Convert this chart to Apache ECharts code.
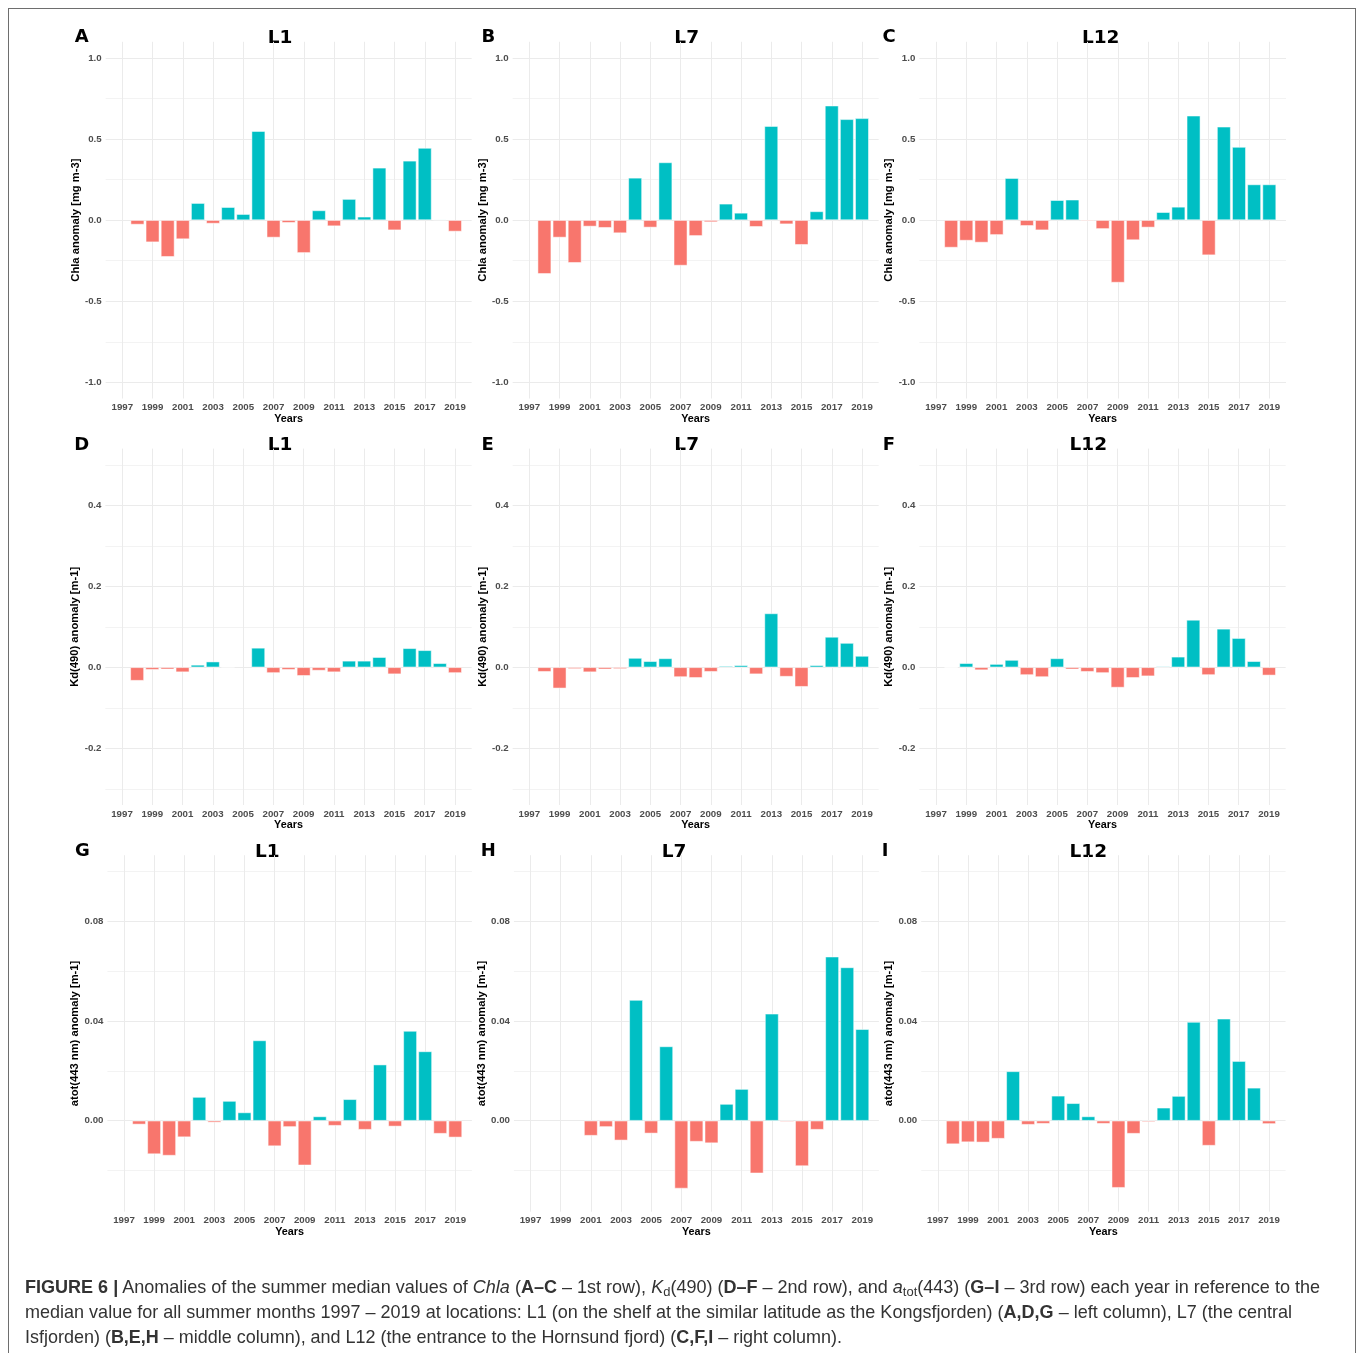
<!DOCTYPE html>
<html>
<head>
<meta charset="utf-8">
<script src="https://cdn.jsdelivr.net/npm/echarts@6/dist/echarts.min.js"></script>
<style>
html,body{margin:0;padding:0;background:#fff;}
#wrap{position:relative;width:1358px;height:1353px;overflow:hidden;background:#fff;}
#chart{position:absolute;left:0;top:0;width:1358px;height:1353px;}
#frame{position:absolute;left:8px;top:8px;width:1348px;height:1420px;border:1px solid #6e6e6e;box-sizing:border-box;pointer-events:none;}
#caption{position:absolute;left:25px;top:0;width:1320px;height:1353px;font-family:'Liberation Sans Narrow','Liberation Sans',Arial,sans-serif;font-size:18.5px;color:#333;pointer-events:none;}
.cl{position:absolute;left:0;white-space:nowrap;line-height:25px;transform-origin:0 50%;}
.cl sub{font-size:0.72em;vertical-align:-0.25em;line-height:0;}
</style>
</head>
<body>
<div id="wrap">
  <div id="chart"></div>
  <div id="frame"></div>
  <div id="caption">
    <div class="cl" id="cl1" style="top:1274px"><b>FIGURE 6 |</b> Anomalies of the summer median values of <i>Chla</i> (<b>A–C</b> – 1st row), <i>K</i><sub>d</sub>(490) (<b>D–F</b> – 2nd row), and <i>a</i><sub>tot</sub>(443) (<b>G–I</b> – 3rd row) each year in reference to the</div>
    <div class="cl" id="cl2" style="top:1299px">median value for all summer months 1997 – 2019 at locations: L1 (on the shelf at the similar latitude as the Kongsfjorden) (<b>A,D,G</b> – left column), L7 (the central</div>
    <div class="cl" id="cl3" style="top:1324px">Isfjorden) (<b>B,E,H</b> – middle column), and L12 (the entrance to the Hornsund fjord) (<b>C,F,I</b> – right column).</div>
  </div>
</div>
<script>
// ---------------- DATA ----------------
const years = [1998, 1999, 2000, 2001, 2002, 2003, 2004, 2005, 2006, 2007, 2008,
               2009, 2010, 2011, 2012, 2013, 2014, 2015, 2016, 2017, 2018, 2019];
const xTickYears = [1997, 1999, 2001, 2003, 2005, 2007, 2009, 2011, 2013, 2015, 2017, 2019];

const chlaL1  = [-0.027, -0.136, -0.226, -0.117, 0.105, -0.021, 0.080, 0.037, 0.549, -0.107, -0.016,
                 -0.202, 0.060, -0.037, 0.130, 0.021, 0.323, -0.062, 0.366, 0.445, 0.004, -0.070];
const chlaL7  = [-0.331, -0.107, -0.263, -0.039, -0.047, -0.080, 0.261, -0.045, 0.356, -0.280, -0.097,
                 -0.012, 0.101, 0.045, -0.041, 0.580, -0.025, -0.152, 0.054, 0.706, 0.622, 0.628];
const chlaL12 = [-0.169, -0.126, -0.138, -0.091, 0.259, -0.035, -0.062, 0.123, 0.126, -0.006, -0.054,
                 -0.385, -0.123, -0.045, 0.049, 0.082, 0.644, -0.216, 0.576, 0.451, 0.220, 0.220];

const kdL1  = [-0.033, -0.006, -0.005, -0.012, 0.006, 0.014, 0.001, null, 0.048, -0.014, -0.006,
               -0.021, -0.008, -0.012, 0.016, 0.016, 0.025, -0.017, 0.047, 0.042, 0.010, -0.014];
const kdL7  = [-0.011, -0.052, -0.004, -0.012, -0.005, -0.004, 0.023, 0.015, 0.022, -0.024, -0.026,
               -0.011, 0.003, 0.005, -0.017, 0.133, -0.023, -0.048, 0.005, 0.075, 0.060, 0.028];
const kdL12 = [-0.001, 0.010, -0.007, 0.008, 0.018, -0.019, -0.024, 0.022, -0.005, -0.011, -0.014,
               -0.050, -0.026, -0.022, 0.002, 0.026, 0.117, -0.019, 0.095, 0.072, 0.015, -0.020];

const atotL1  = [-0.0015, -0.0134, -0.0140, -0.0066, 0.0095, -0.0007, 0.0079, 0.0033, 0.0322, -0.0102, -0.0025,
                 -0.0179, 0.0017, -0.0020, 0.0086, -0.0036, 0.0225, -0.0023, 0.0360, 0.0278, -0.0052, -0.0067];
const atotL7  = [null, null, null, -0.0060, -0.0025, -0.0079, 0.0484, -0.0051, 0.0298, -0.0272, -0.0084,
                 -0.0090, 0.0067, 0.0127, -0.0211, 0.0429, -0.0004, -0.0182, -0.0036, 0.0658, 0.0615, 0.0367];
const atotL12 = [-0.0094, -0.0086, -0.0087, -0.0072, 0.0198, -0.0016, -0.0012, 0.0100, 0.0070, 0.0017, -0.0012,
                 -0.0269, -0.0052, -0.0005, 0.0052, 0.0099, 0.0396, -0.0100, 0.0409, 0.0239, 0.0132, -0.0013];

const chlaTicks = [-1.0, -0.5, 0.0, 0.5, 1.0];
const kdTicks   = [-0.2, 0.0, 0.2, 0.4];
const atotTicks = [0.00, 0.04, 0.08];

const locations = ['L1', 'L7', 'L12'];
const panelLetters = ['A', 'B', 'C', 'D', 'E', 'F', 'G', 'H', 'I'];
const rowAxisNames = ['Chla anomaly [mg m-3]', 'Kd(490) anomaly [m-1]', 'atot(443 nm) anomaly [m-1]'];
const xAxisName = 'Years';

const panelValues = [
  [chlaL1, chlaL7, chlaL12],
  [kdL1, kdL7, kdL12],
  [atotL1, atotL7, atotL12]
];
const rowTicks = [chlaTicks, kdTicks, atotTicks];

// ---------------- LAYOUT (pixels / styling only) ----------------
const X_MIN = 1995.9, X_MAX = 2020.1;
const x1997px = [[122.3, 529.3, 936.0], [122.0, 529.3, 936.0], [124.0, 530.5, 937.8]];
const x2019px = [[455.0, 862.0, 1269.3], [455.0, 862.0, 1269.0], [455.3, 862.3, 1269.0]];
const rowLayout = [
  { vA: 1.0,  pA: 58.0,  vB: -1.0, pB: 382.3,  min: -1.1,    max: 1.1,    interval: 0.5,  dec: 1 },
  { vA: 0.4,  pA: 505.3, vB: -0.2, pB: 748.3,  min: -0.34,   max: 0.54,   interval: 0.2,  dec: 1 },
  { vA: 0.08, pA: 921.3, vB: 0.0,  pB: 1120.7, min: -0.0365, max: 0.1065, interval: 0.04, dec: 2 }
];
const titlePos  = [[280, 38.5], [686.7, 38.5], [1100.7, 38.5],
                   [280, 445.5], [686.7, 445.5], [1088.3, 445.5],
                   [267.3, 852], [674, 852], [1088.3, 852]];
const letterPos = [[81.7, 37.5], [488.3, 37.5], [889, 37.5],
                   [81.7, 445.5], [487.7, 445.5], [889, 445.5],
                   [82.3, 851.5], [488.3, 851.5], [885, 851.5]];

const POS = '#00BFC4', NEG = '#F8766D';
const axisFont = 'Liberation Sans';

const grids = [], xAxes = [], yAxes = [], series = [], graphics = [];

for (let r = 0; r < 3; r++) {
  const L = rowLayout[r];
  const pxPerUnit = (L.pB - L.pA) / (L.vA - L.vB);
  const py = v => L.pA + (L.vA - v) * pxPerUnit;
  for (let c = 0; c < 3; c++) {
    const i = r * 3 + c;
    const pxPerYear = (x2019px[r][c] - x1997px[r][c]) / 22;
    const px = y => x1997px[r][c] + (y - 1997) * pxPerYear;
    const left = px(X_MIN), right = px(X_MAX);
    const top = py(L.max), bottom = py(L.min);
    grids.push({ left: left, top: top, width: right - left, height: bottom - top, containLabel: false });

    xAxes.push({
      type: 'value', gridIndex: i, min: X_MIN, max: X_MAX,
      axisLine: { show: false },
      axisTick: { show: false, customValues: xTickYears },
      axisLabel: {
        customValues: xTickYears, margin: 4, fontSize: 9.7, fontWeight: 'bold',
        color: '#4d4d4d', fontFamily: axisFont, formatter: v => String(Math.round(v))
      },
      splitLine: { show: true, lineStyle: { color: '#ebebeb', width: 1 } },
      name: xAxisName, nameLocation: 'middle', nameGap: 13,
      nameTextStyle: { fontSize: 10.8, fontWeight: 'bold', color: '#000', fontFamily: axisFont }
    });

    const ticks = rowTicks[r];
    yAxes.push({
      type: 'value', gridIndex: i, min: L.min, max: L.max,
      minInterval: L.interval, maxInterval: L.interval,
      axisLine: { show: false },
      axisTick: { show: false, customValues: ticks },
      axisLabel: {
        customValues: ticks, margin: 4, fontSize: 9.7, fontWeight: 'bold',
        color: '#4d4d4d', fontFamily: axisFont, formatter: v => Number(v).toFixed(L.dec)
      },
      splitLine: { show: true, lineStyle: { color: '#ebebeb', width: 1 } },
      minorTick: { show: false, splitNumber: 2 },
      minorSplitLine: { show: true, lineStyle: { color: '#f3f3f3', width: 1 } },
      name: rowAxisNames[r], nameLocation: 'middle', nameGap: 22,
      nameTextStyle: { fontSize: 11.2, fontWeight: 'bold', color: '#000', fontFamily: axisFont }
    });

    const vals = panelValues[r][c];
    series.push({
      type: 'bar', xAxisIndex: i, yAxisIndex: i,
      barWidth: 0.9 * pxPerYear,
      data: years.map((y, k) => vals[k] === null ? null : [y, vals[k]]).filter(d => d !== null),
      itemStyle: {
        color: p => (p.value[1] >= 0 ? POS : NEG),
        borderColor: 'rgba(255,255,255,0.85)', borderWidth: 0.6
      },
      silent: true, animation: false
    });

    graphics.push({
      type: 'text', x: titlePos[i][0], y: titlePos[i][1], silent: true,
      style: { text: locations[c], fill: '#000', fontSize: 18.5, fontWeight: 'bold',
               fontFamily: 'DejaVu Sans', align: 'center', verticalAlign: 'middle' }
    });
    graphics.push({
      type: 'text', x: letterPos[i][0], y: letterPos[i][1], silent: true,
      style: { text: panelLetters[i], fill: '#000', fontSize: 18, fontWeight: 'bold',
               fontFamily: 'DejaVu Sans', align: 'center', verticalAlign: 'middle' }
    });
  }
}

const chart = echarts.init(document.getElementById('chart'), null, { renderer: 'canvas' });
chart.setOption({
  backgroundColor: '#ffffff',
  animation: false,
  grid: grids,
  xAxis: xAxes,
  yAxis: yAxes,
  series: series,
  graphic: graphics
});

const captionWidths = { cl1: 1295, cl2: 1267, cl3: 817 };
Object.keys(captionWidths).forEach(id => {
  const el = document.getElementById(id);
  const w = el.getBoundingClientRect().width;
  if (w > 0) el.style.transform = 'scaleX(' + (captionWidths[id] / w) + ')';
});
</script>
</body>
</html>
